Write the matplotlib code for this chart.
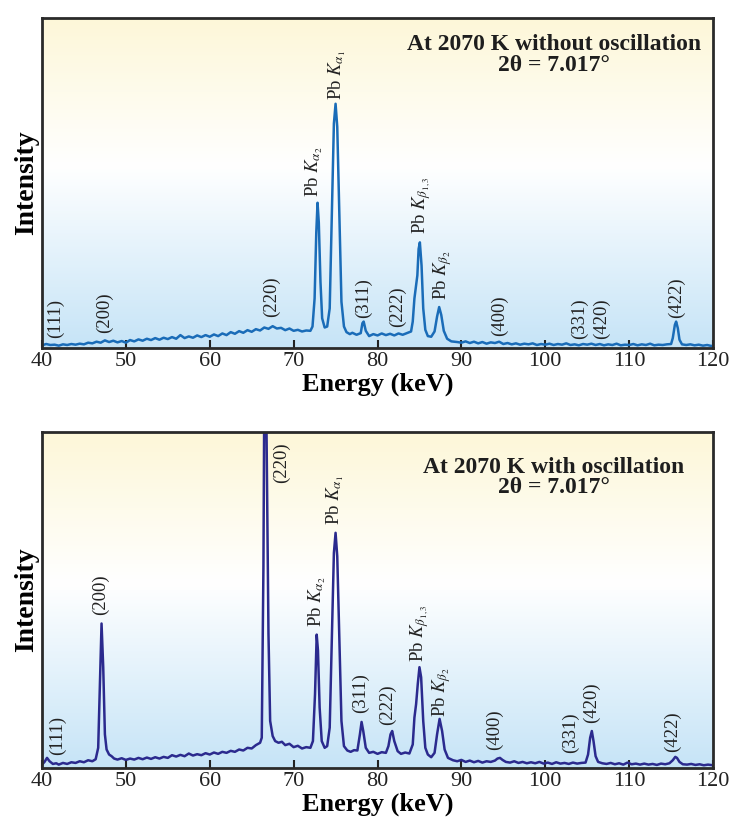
import numpy as np
import matplotlib
matplotlib.use("Agg")
import matplotlib.pyplot as plt
from matplotlib.colors import LinearSegmentedColormap

plt.rcParams["font.family"] = ["Liberation Serif", "DejaVu Serif"]
plt.rcParams["mathtext.fontset"] = "stix"

# スペクトル (振動なし) : エネルギー keV / 強度 (軸の高さに対する %)
energy_top = [
    40.0, 40.5, 41.0, 41.5, 42.0, 42.5, 43.0, 43.5, 44.0, 44.5,
    45.0, 45.5, 46.0, 46.5, 47.0, 47.5, 48.0, 48.5, 49.0, 49.5,
    50.0, 50.5, 51.0, 51.5, 52.0, 52.5, 53.0, 53.5, 54.0, 54.5,
    55.0, 55.5, 56.0, 56.5, 57.0, 57.5, 58.0, 58.5, 59.0, 59.5,
    60.0, 60.5, 61.0, 61.5, 62.0, 62.5, 63.0, 63.5, 64.0, 64.5,
    65.0, 65.5, 66.0, 66.5, 67.0, 67.5, 68.0, 68.5, 69.0, 69.5,
    70.0, 70.5, 71.0, 71.5, 72.0, 72.25, 72.5, 72.7, 72.85, 73.0,
    73.2, 73.4, 73.7, 74.0, 74.3, 74.55, 74.8, 75.0, 75.2, 75.45,
    75.7, 76.0, 76.3, 76.7, 77.0, 77.5, 78.0, 78.2, 78.35, 78.6,
    79.0, 79.5, 80.0, 80.5, 81.0, 81.5, 82.0, 82.5, 83.0, 83.5,
    84.0, 84.2, 84.4, 84.6, 84.75, 84.9, 85.05, 85.25, 85.45, 85.7,
    86.0, 86.4, 86.8, 87.1, 87.35, 87.6, 87.9, 88.3, 88.8, 89.5,
    90.0, 90.5, 91.0, 91.5, 92.0, 92.5, 93.0, 93.5, 94.0, 94.5,
    95.0, 95.5, 96.0, 96.5, 97.0, 97.5, 98.0, 98.5, 99.0, 99.5,
    100.0, 100.5, 101.0, 101.5, 102.0, 102.5, 103.0, 103.5, 104.0, 104.5,
    105.0, 105.5, 106.0, 106.5, 107.0, 107.5, 108.0, 108.5, 109.0, 109.5,
    110.0, 110.5, 111.0, 111.5, 112.0, 112.5, 113.0, 113.5, 114.0, 114.5,
    115.0, 115.2, 115.45, 115.6, 115.8, 116.0, 116.3, 116.8, 117.3, 117.8,
    118.3, 118.8, 119.3, 119.8, 120.0,
]
intensity_top = [
    0.8, 1.2, 0.9, 1.0, 0.7, 1.1, 0.9, 1.2, 1.0, 1.3,
    1.1, 1.6, 1.4, 1.9, 1.6, 2.3, 1.8, 2.2, 1.7, 2.1,
    1.6, 2.4, 2.0, 2.6, 2.2, 2.8, 2.4, 3.0, 2.5, 3.1,
    2.7, 3.3, 2.8, 3.9, 3.0, 3.5, 3.1, 3.8, 3.3, 3.9,
    3.4, 4.1, 3.6, 4.4, 3.9, 4.8, 4.3, 5.1, 4.6, 5.4,
    4.9, 5.7, 5.3, 6.2, 5.8, 6.6, 5.9, 6.1, 5.4, 5.9,
    5.2, 5.5, 5.0, 5.3, 5.2, 6.5, 15.0, 35.0, 44.0, 38.0,
    20.0, 9.0, 6.2, 6.5, 12.0, 40.0, 68.0, 74.0, 67.0, 40.0,
    14.0, 6.5, 4.8, 4.2, 4.6, 4.0, 4.5, 7.5, 8.0, 5.2,
    3.6, 4.2, 3.8, 4.4, 3.9, 4.3, 3.8, 4.4, 4.0, 4.5,
    5.0, 8.0, 15.0, 19.0, 22.0, 30.0, 32.0, 25.0, 12.0, 5.5,
    3.6, 3.4, 5.0, 9.5, 12.4, 10.0, 5.2, 2.8, 2.0, 1.8,
    1.6, 2.0, 1.5, 1.9, 1.4, 1.8, 1.3, 1.7, 1.5, 1.9,
    1.2, 1.5, 1.1, 1.4, 1.0, 1.3, 1.1, 1.4, 0.9, 1.2,
    1.0, 1.3, 0.9, 1.2, 1.0, 1.4, 0.9, 1.1, 0.8, 1.2,
    1.0, 1.3, 0.9, 1.2, 0.8, 1.1, 0.9, 1.3, 0.8, 1.0,
    0.9, 1.2, 0.8, 1.1, 0.9, 1.3, 0.8, 1.0, 0.9, 1.1,
    1.2, 3.0, 7.0, 8.0, 6.0, 2.5, 1.1, 0.9, 1.1, 0.8,
    1.0, 0.7, 0.9, 0.6, 0.7,
]

# スペクトル (振動あり)
energy_bot = [
    40.0, 40.3, 40.6, 40.9, 41.3, 41.7, 42.0, 42.5, 43.0, 43.5,
    44.0, 44.5, 45.0, 45.5, 46.0, 46.4, 46.7, 46.9, 47.1, 47.3,
    47.5, 47.7, 48.0, 48.3, 48.6, 49.0, 49.5, 50.0, 50.5, 51.0,
    51.5, 52.0, 52.5, 53.0, 53.5, 54.0, 54.5, 55.0, 55.5, 56.0,
    56.5, 57.0, 57.5, 58.0, 58.5, 59.0, 59.5, 60.0, 60.5, 61.0,
    61.5, 62.0, 62.5, 63.0, 63.5, 64.0, 64.5, 65.0, 65.5, 66.0,
    66.2, 66.4, 66.5, 66.75, 67.0, 67.2, 67.5, 67.8, 68.2, 68.6,
    69.0, 69.5, 70.0, 70.5, 71.0, 71.5, 72.0, 72.3, 72.55, 72.75,
    72.9, 73.1, 73.35, 73.7, 74.0, 74.3, 74.55, 74.8, 75.0, 75.2,
    75.45, 75.7, 76.0, 76.4, 76.8, 77.2, 77.6, 77.9, 78.1, 78.3,
    78.6, 79.0, 79.5, 80.0, 80.5, 81.0, 81.3, 81.55, 81.75, 82.0,
    82.4, 82.8, 83.3, 83.8, 84.2, 84.4, 84.6, 84.8, 85.0, 85.2,
    85.45, 85.7, 86.0, 86.4, 86.8, 87.1, 87.4, 87.7, 88.0, 88.4,
    89.0, 89.5, 90.0, 90.5, 91.0, 91.5, 92.0, 92.5, 93.0, 93.5,
    94.0, 94.3, 94.6, 94.9, 95.3, 95.8, 96.3, 96.8, 97.3, 97.8,
    98.3, 98.8, 99.3, 99.8, 100.3, 100.8, 101.3, 101.8, 102.3, 102.8,
    103.3, 103.8, 104.3, 104.8, 105.1, 105.35, 105.55, 105.75, 106.0, 106.3,
    106.8, 107.3, 107.8, 108.3, 108.8, 109.3, 109.8, 110.3, 110.8, 111.3,
    111.8, 112.3, 112.8, 113.3, 113.8, 114.3, 114.8, 115.2, 115.5, 115.7,
    116.0, 116.4, 116.9, 117.4, 117.9, 118.4, 118.9, 119.4, 120.0,
]
intensity_bot = [
    1.0, 1.8, 3.0, 2.0, 1.2, 1.4, 1.0, 1.5, 1.2, 1.7,
    1.5, 2.0, 1.7, 2.3, 2.0, 2.6, 6.0, 25.0, 43.0, 30.0,
    10.0, 5.5, 4.0, 3.5, 2.8, 2.5, 2.9, 2.4, 2.8, 2.5,
    3.0, 2.6, 3.1, 2.7, 3.2, 2.8, 3.3, 3.0, 3.8, 3.4,
    3.9, 3.5, 4.3, 3.7, 4.1, 3.8, 4.4, 4.0, 4.6, 4.2,
    4.8, 4.5, 5.1, 4.8, 5.5, 5.2, 6.0, 5.8, 6.8, 7.5,
    9.0, 60.0, 110.0, 105.0, 40.0, 14.0, 9.5, 8.0, 7.5, 7.8,
    6.8, 7.2, 6.2, 6.6, 5.8, 6.2, 6.0, 8.0, 22.0, 39.7,
    35.0, 18.0, 8.0, 6.0, 6.5, 12.0, 38.0, 64.0, 70.0, 63.0,
    38.0, 14.0, 6.5, 5.2, 4.8, 5.3, 5.2, 10.0, 13.7, 11.0,
    6.0, 4.5, 4.8, 4.2, 4.7, 4.5, 6.5, 10.0, 11.0, 8.0,
    5.0, 4.2, 4.6, 4.3, 7.0, 15.0, 19.0, 25.0, 30.0, 27.0,
    14.0, 6.0, 4.0, 3.2, 4.5, 10.0, 14.6, 11.0, 5.5, 3.0,
    2.3, 2.0, 2.4, 1.8, 2.2, 1.7, 2.1, 1.6, 2.0, 1.8,
    2.2, 2.8, 3.0, 2.4, 1.8, 1.6, 2.0, 1.5, 1.8, 1.4,
    1.7, 1.4, 1.8, 1.3, 1.6, 1.2, 1.7, 1.3, 1.5, 1.2,
    1.6, 1.3, 1.5, 1.6, 4.0, 9.0, 11.0, 8.0, 3.5, 1.8,
    1.4, 1.2, 1.5, 1.1, 1.4, 1.0, 1.6, 1.1, 1.3, 1.0,
    1.3, 1.0, 1.2, 0.9, 1.3, 1.1, 1.4, 2.3, 3.3, 3.0,
    1.8, 1.1, 1.0, 1.2, 0.9, 1.1, 0.8, 1.0, 0.8,
]

# ピークのラベル (テキスト, エネルギー, ラベル下端の高さ)
labels_top = [
    ("(111)", 41.6, 3.0), ("(200)", 47.5, 4.5), ("(220)", 67.4, 9.4),
    (r"Pb $\mathit{K}_{\alpha_2}$", 72.4, 45.8), (r"Pb $\mathit{K}_{\alpha_1}$", 75.2, 75.0),
    ("(311)", 78.3, 9.1), ("(222)", 82.4, 6.4),
    (r"Pb $\mathit{K}_{\beta_{1,3}}$", 85.3, 34.5), (r"Pb $\mathit{K}_{\beta_2}$", 87.7, 14.5),
    ("(400)", 94.5, 3.6), ("(331)", 104.1, 2.7), ("(420)", 106.7, 2.7), ("(422)", 115.7, 9.1),
]
labels_bot = [
    ("(111)", 41.8, 3.9), ("(200)", 47.0, 45.5), ("(220)", 68.6, 84.8),
    (r"Pb $\mathit{K}_{\alpha_2}$", 72.8, 42.0), (r"Pb $\mathit{K}_{\alpha_1}$", 75.0, 72.3),
    ("(311)", 78.0, 16.4), ("(222)", 81.2, 12.8),
    (r"Pb $\mathit{K}_{\beta_{1,3}}$", 85.0, 31.5), (r"Pb $\mathit{K}_{\beta_2}$", 87.6, 15.2),
    ("(400)", 94.0, 5.4), ("(331)", 103.0, 4.4), ("(420)", 105.5, 13.4), ("(422)", 115.2, 4.8),
]

titles = ["At 2070 K without oscillation\n2θ = 7.017°",
          "At 2070 K with oscillation\n2θ = 7.017°"]
line_colors = ["#1a6cb8", "#2b2a8e"]

bg = LinearSegmentedColormap.from_list(
    "bg", [(0.0, "#c6e4f7"), (0.55, "#ffffff"), (1.0, "#fdf7d8")])

fig = plt.figure(figsize=(7.29, 8.24), dpi=100)
ax1 = fig.add_axes([0.0576, 0.5777, 0.9205, 0.4005])
ax2 = fig.add_axes([0.0576, 0.0680, 0.9205, 0.4077])

panels = [
    (ax1, energy_top, intensity_top, labels_top, titles[0], line_colors[0], 0.950),
    (ax2, energy_bot, intensity_bot, labels_bot, titles[1], line_colors[1], 0.925),
]

for ax, e, inten, labs, title, col, ty in panels:
    grad = np.linspace(0, 1, 256).reshape(-1, 1)
    ax.imshow(grad, cmap=bg, origin="lower", aspect="auto",
              extent=[0, 1, 0, 1], transform=ax.transAxes, zorder=0)
    ax.plot(e, inten, color=col, lw=1.8, zorder=2)
    ax.set_xlim(40, 120)
    ax.set_ylim(0, 100)
    ax.set_xticks(range(40, 121, 10))
    ax.set_yticks([])
    ax.tick_params(axis="x", direction="in", length=6, width=1.5,
                   labelsize=16, colors="#222222", pad=3)
    for s in ax.spines.values():
        s.set_linewidth(2)
        s.set_color("#2a2a2a")
    ax.set_xlabel("Energy (keV)", fontsize=19, fontweight="bold", labelpad=1)
    ax.set_ylabel("Intensity", fontsize=20, fontweight="bold", labelpad=2)
    for txt, x, y in labs:
        ax.text(x, y, txt, rotation=90, ha="center", va="bottom",
                fontsize=13.5, color="#222222", zorder=3)
    ax.text(0.763, ty, title, transform=ax.transAxes, ha="center", va="top",
            fontsize=17, fontweight="bold", color="#1e1e1e", linespacing=0.95, zorder=3)

fig.savefig("out.png", dpi=100)
